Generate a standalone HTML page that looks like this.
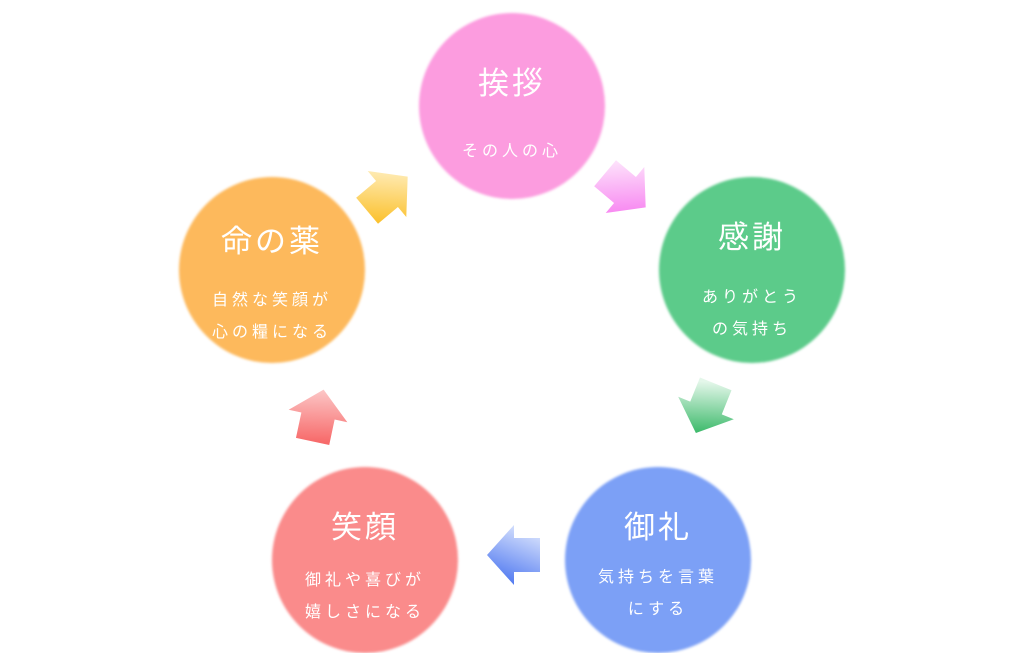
<!DOCTYPE html>
<html><head><meta charset="utf-8"><style>
html,body{margin:0;padding:0;background:#fff;}
body{width:1024px;height:653px;position:relative;overflow:hidden;font-family:"Liberation Sans","Noto Sans CJK JP",sans-serif;}
.c{position:absolute;width:186px;height:186px;border-radius:50%;filter:blur(1.2px);}
.t{position:absolute;width:186px;text-align:center;color:#fff;}
.h{font-size:31px;letter-spacing:3px;}
.s{font-size:16px;letter-spacing:4px;line-height:32px;}
</style></head><body>
<div class="c" style="left:419px;top:13px;background:#fc9cdf"></div>
<div class="c" style="left:659px;top:177px;background:#5ccb8a"></div>
<div class="c" style="left:565px;top:467px;background:#7ca0f6"></div>
<div class="c" style="left:272px;top:467px;background:#fa8b8b"></div>
<div class="c" style="left:179px;top:177px;background:#fdb95c"></div>

<div class="t h" style="left:419px;top:58px">挨拶</div>
<div class="t s" style="left:419px;top:136px">その人の心</div>
<div class="t h" style="left:659px;top:212px">感謝</div>
<div class="t s" style="left:659px;top:282px">ありがとう<br>の気持ち</div>
<div class="t h" style="left:565px;top:502px">御礼</div>
<div class="t s" style="left:565px;top:562px">気持ちを言葉<br>にする</div>
<div class="t h" style="left:272px;top:502px">笑顔</div>
<div class="t s" style="left:272px;top:565px">御礼や喜びが<br>嬉しさになる</div>
<div class="t h" style="left:179px;top:216px">命の薬</div>
<div class="t s" style="left:179px;top:285px">自然な笑顔が<br>心の糧になる</div>

<svg width="1024" height="653" style="position:absolute;left:0;top:0">
<defs>
<linearGradient id="gp" x1="0.5" y1="0" x2="0.5" y2="1" gradientTransform="rotate(-40 .5 .5)"><stop offset="0" stop-color="#fde0fb"/><stop offset="1" stop-color="#f77ef0"/></linearGradient>
<linearGradient id="gg" x1="0.5" y1="0" x2="0.5" y2="1" gradientTransform="rotate(-112 .5 .5)"><stop offset="0" stop-color="#e4f7ea"/><stop offset="1" stop-color="#35b765"/></linearGradient>
<linearGradient id="gb" x1="0.5" y1="0" x2="0.5" y2="1" gradientTransform="rotate(-160 .5 .5)"><stop offset="0" stop-color="#d6e1fd"/><stop offset="1" stop-color="#4f78f0"/></linearGradient>
<linearGradient id="gr" x1="0.5" y1="0" x2="0.5" y2="1" gradientTransform="rotate(78 .5 .5)"><stop offset="0" stop-color="#fcc8c8"/><stop offset="1" stop-color="#f76a6a"/></linearGradient>
<linearGradient id="gy" x1="0.5" y1="0" x2="0.5" y2="1" gradientTransform="rotate(40 .5 .5)"><stop offset="0" stop-color="#fff0c4"/><stop offset="1" stop-color="#fbc230"/></linearGradient>
<polygon id="ar" points="-26,-17 0,-17 0,-30 27,0 0,30 0,17 -26,17"/>
</defs>
<use href="#ar" fill="url(#gp)" transform="translate(625,190) rotate(40)"/>
<use href="#ar" fill="url(#gg)" transform="translate(706,408) rotate(112)"/>
<use href="#ar" fill="url(#gb)" transform="translate(514,555) rotate(180)"/>
<use href="#ar" fill="url(#gr)" transform="translate(318,416) rotate(-78)"/>
<use href="#ar" fill="url(#gy)" transform="translate(387,194) rotate(-40)"/>
</svg>
</body></html>
